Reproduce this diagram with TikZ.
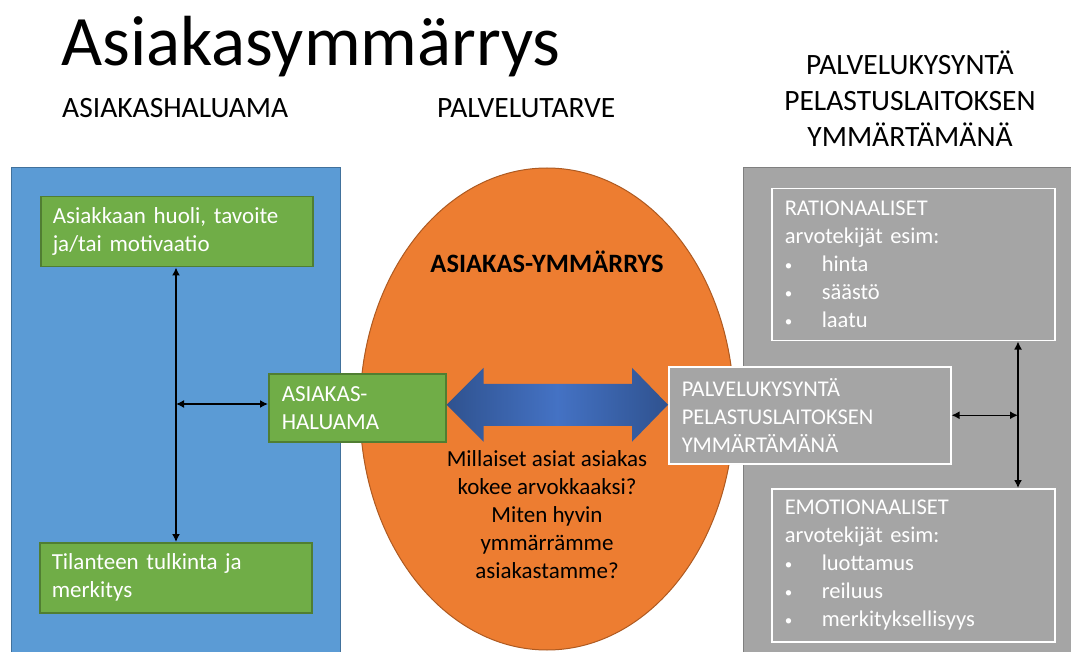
\documentclass[tikz,border=0pt]{standalone}
\usepackage{fontspec}
\setmainfont{Carlito}
\usetikzlibrary{arrows.meta,calc}

\definecolor{boxblue}{HTML}{5B9BD5}
\definecolor{boxblueline}{HTML}{41719C}
\definecolor{boxgreen}{HTML}{70AD47}
\definecolor{boxgreenline}{HTML}{507E32}
\definecolor{ringorange}{HTML}{ED7D31}
\definecolor{ringline}{HTML}{AE5A21}
\definecolor{panelgray}{HTML}{A5A5A5}
\definecolor{panelline}{HTML}{7F7F7F}
\definecolor{arrowdark}{HTML}{2F528F}
\definecolor{arrowlight}{HTML}{4472C4}

\tikzset{
  greenbox/.style={draw=boxgreenline, line width=1.5pt, fill=boxgreen, text=white,
    anchor=north west, align=left, inner xsep=12pt, inner ysep=0pt,
    font=\fontsize{23}{28}\selectfont},
  graybox/.style={draw=white, line width=1.5pt, text=white,
    anchor=north west, align=left, inner xsep=13pt, inner ysep=0pt,
    font=\fontsize{22.5}{28}\selectfont},
  twoway/.style={{Latex[length=8pt,width=8pt]}-{Latex[length=8pt,width=8pt]}, line width=1.5pt},
  header/.style={font=\fontsize{29.5}{36}\selectfont, align=center},
}
\newcommand{\bulletitem}[1]{\makebox[37pt][l]{\raisebox{1.5pt}{\fontsize{15}{15}\selectfont\textbullet}}#1}

\begin{document}
\begin{tikzpicture}[x=1pt, y=-1pt]
    \useasboundingbox (0,0) rectangle (1071,652);
    \fill[white] (0,0) rectangle (1071,652);

    % Title and column headers
    \node[anchor=base west, inner sep=0pt, font=\fontsize{71}{84}\selectfont] (title) at (61,66) {Asiakasymmärrys};
    \node[header, anchor=base west, inner sep=0pt] (hdrleft) at (62,118) {ASIAKASHALUAMA};
    \node[header, anchor=base west, inner sep=0pt] (hdrmid) at (437,118) {PALVELUTARVE};
    \node[header, inner sep=0pt] (hdrright) at (910,99) {PALVELUKYSYNTÄ\\PELASTUSLAITOKSEN\\YMMÄRTÄMÄNÄ};

    % Background panels and the middle ellipse
    \draw[draw=boxblueline, fill=boxblue, line width=1pt] (11,168) rectangle (340,660);
    \draw[draw=panelline, fill=panelgray, line width=1pt] (743,168) rectangle (1080,660);
    \draw[draw=ringline, fill=ringorange, line width=1pt] (547,409) ellipse [x radius=187, y radius=241];

    % Left column boxes
    \node[greenbox, minimum width=272, minimum height=70, text width=248] (huoli) at (40,196)
        {Asiakkaan huoli, tavoite\\ja/tai motivaatio};
    \node[greenbox, minimum width=272, minimum height=70, text width=248] (tulkinta) at (39,542)
        {Tilanteen tulkinta ja\\merkitys};
    \node[greenbox, minimum width=175, minimum height=68, text width=151, inner xsep=13pt] (haluama) at (268,373)
        {ASIAKAS-\\HALUAMA};

    % Middle texts
    \node[font=\bfseries\fontsize{26.5}{28}\selectfont] (ringtitle) at (547,262) {ASIAKAS-YMMÄRRYS};
    \node[align=center, font=\fontsize{23}{28}\selectfont] (question) at (547,515)
        {Millaiset asiat asiakas\\kokee arvokkaaksi?\\Miten hyvin\\ymmärrämme\\asiakastamme?};

    % Right column boxes
    \node[graybox, fill=panelgray, minimum width=282, minimum height=97, text width=256] (palvelu) at (668,366)
        {PALVELUKYSYNTÄ\\PELASTUSLAITOKSEN\\YMMÄRTÄMÄNÄ};
    \node[graybox, minimum width=283, minimum height=152, text width=257] (rational) at (771,188)
        {RATIONAALISET\\arvotekijät esim:\\\bulletitem{hinta}\\\bulletitem{säästö}\\\bulletitem{laatu}};
    \node[graybox, minimum width=283, minimum height=153, text width=257] (emotional) at (771,488)
        {EMOTIONAALISET\\arvotekijät esim:\\\bulletitem{luottamus}\\\bulletitem{reiluus}\\\bulletitem{merkityksellisyys}};

    % Big two-way arrow between the two demands
    \coordinate (tipl) at ($(haluama.east)+(0,-3)$);
    \coordinate (tipr) at (tipl -| palvelu.west);
    \shade[left color=arrowdark, right color=arrowdark, middle color=arrowlight]
        (tipl) -- ++(37,-37) -- ++(0,16) -- ($(tipr)+(-36,-21)$) -- ++(0,-16) -- (tipr)
        -- ++(-36,37) -- ++(0,-16) -- ($(tipl)+(37,21)$) -- ++(0,16) -- cycle;

    % Connectors on the left
    \coordinate (lefthub) at (176,404);
    \draw[twoway] (lefthub |- huoli.south) -- (lefthub |- tulkinta.north);
    \draw[twoway] (lefthub) -- (lefthub -| haluama.west);

    % Connectors on the right
    \coordinate (righthub) at (palvelu.east -| 1018,0);
    \draw[twoway] (righthub |- rational.south) -- (righthub |- emotional.north);
    \draw[twoway] (palvelu.east) -- (righthub);
\end{tikzpicture}
\end{document}
